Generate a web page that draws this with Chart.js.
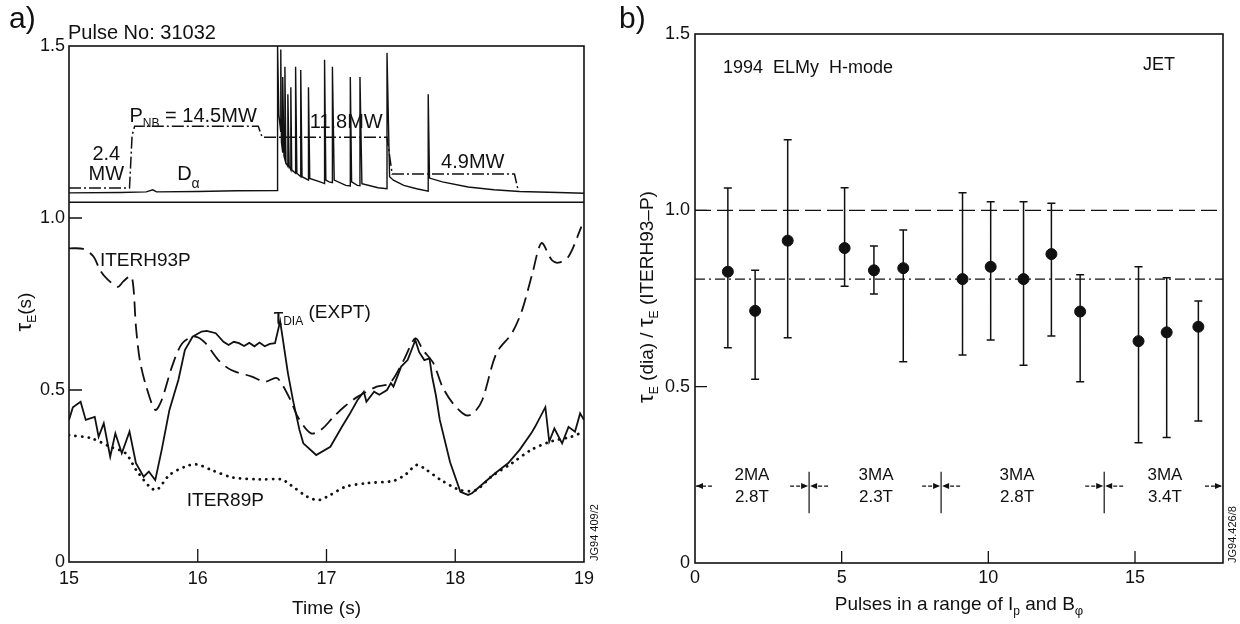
<!DOCTYPE html>
<html>
<head>
<meta charset="utf-8">
<script src="https://cdn.jsdelivr.net/npm/chart.js@4.4.1/dist/chart.umd.min.js"></script>
<style>
  html, body { margin: 0; padding: 0; background: #fff; }
  #wrapA { position: absolute; left: 0; top: 0; width: 600px; height: 624px; }
  #wrapB { position: absolute; left: 600px; top: 0; width: 640px; height: 624px; }
</style>
</head>
<body>
<div id="wrapA"><canvas id="chartA" width="600" height="624"></canvas></div>
<div id="wrapB"><canvas id="chartB" width="640" height="624"></canvas></div>
<script>
// ---- panel a) : [time (s), value] ----
const tauDia = [
  [15.00, 0.413], [15.03, 0.450], [15.09, 0.466], [15.13, 0.413], [15.20, 0.422], [15.23, 0.364],
  [15.27, 0.403], [15.32, 0.306], [15.36, 0.374], [15.41, 0.316], [15.47, 0.379], [15.52, 0.287],
  [15.58, 0.248], [15.62, 0.263], [15.67, 0.238], [15.72, 0.326], [15.78, 0.442], [15.85, 0.530],
  [15.90, 0.616], [15.96, 0.655], [16.03, 0.670], [16.07, 0.672], [16.14, 0.665], [16.20, 0.640],
  [16.24, 0.631], [16.28, 0.640], [16.32, 0.636], [16.36, 0.628], [16.40, 0.637], [16.44, 0.627],
  [16.48, 0.638], [16.52, 0.627], [16.56, 0.634], [16.60, 0.636], [16.64, 0.700], [16.66, 0.650],
  [16.70, 0.550], [16.74, 0.470], [16.79, 0.384], [16.82, 0.345], [16.92, 0.311], [17.03, 0.335],
  [17.12, 0.393], [17.18, 0.430], [17.24, 0.470], [17.29, 0.495], [17.31, 0.466], [17.37, 0.495],
  [17.41, 0.486], [17.47, 0.500], [17.50, 0.520], [17.52, 0.510], [17.58, 0.568], [17.63, 0.587],
  [17.69, 0.645], [17.72, 0.610], [17.76, 0.587], [17.80, 0.592], [17.82, 0.540], [17.85, 0.484],
  [17.88, 0.413], [17.96, 0.290], [18.04, 0.204], [18.10, 0.195], [18.13, 0.200], [18.22, 0.229],
  [18.31, 0.258], [18.41, 0.287], [18.50, 0.326], [18.59, 0.374], [18.62, 0.393], [18.70, 0.450],
  [18.73, 0.350], [18.77, 0.388], [18.83, 0.345], [18.88, 0.393], [18.93, 0.379], [18.97, 0.432],
  [19.00, 0.413]
];
const iterH93P = [
  [15.00, 0.912], [15.11, 0.910], [15.19, 0.888], [15.24, 0.849], [15.29, 0.825], [15.38, 0.800],
  [15.42, 0.815], [15.48, 0.831], [15.50, 0.800], [15.52, 0.684], [15.55, 0.587], [15.60, 0.510],
  [15.67, 0.442], [15.72, 0.471], [15.80, 0.568], [15.88, 0.636], [15.98, 0.655], [16.06, 0.636],
  [16.16, 0.587], [16.26, 0.558], [16.42, 0.539], [16.52, 0.524], [16.61, 0.535], [16.65, 0.520],
  [16.72, 0.471], [16.78, 0.420], [16.88, 0.374], [16.96, 0.385], [17.05, 0.420], [17.14, 0.452],
  [17.24, 0.480], [17.39, 0.510], [17.49, 0.519], [17.60, 0.587], [17.69, 0.650], [17.75, 0.616],
  [17.83, 0.578], [17.90, 0.510], [17.98, 0.462], [18.08, 0.427], [18.14, 0.432], [18.21, 0.471],
  [18.32, 0.607], [18.44, 0.665], [18.52, 0.733], [18.60, 0.840], [18.67, 0.927], [18.75, 0.878],
  [18.80, 0.870], [18.88, 0.888], [18.98, 0.975]
];
const iter89P = [
  [15.00, 0.369], [15.17, 0.360], [15.32, 0.335], [15.44, 0.316], [15.53, 0.263], [15.67, 0.209],
  [15.78, 0.253], [15.90, 0.277], [15.99, 0.284], [16.11, 0.267], [16.27, 0.246], [16.48, 0.240],
  [16.65, 0.240], [16.72, 0.224], [16.85, 0.190], [16.94, 0.180], [17.03, 0.195], [17.15, 0.219],
  [17.31, 0.229], [17.52, 0.236], [17.61, 0.253], [17.70, 0.282], [17.76, 0.272], [17.89, 0.238],
  [18.04, 0.209], [18.16, 0.209], [18.28, 0.248], [18.44, 0.287], [18.59, 0.326], [18.74, 0.350],
  [18.90, 0.364], [19.00, 0.379]
];
const dAlpha = [
  [15.00, 1.073], [15.40, 1.074], [15.60, 1.076], [15.65, 1.082], [15.68, 1.076], [16.00, 1.077],
  [16.30, 1.079], [16.62, 1.080], [16.62, 1.500], [16.63, 1.300], [16.645, 1.250], [16.645, 1.490],
  [16.65, 1.220], [16.66, 1.190], [16.66, 1.410], [16.67, 1.180], [16.677, 1.170], [16.677, 1.440],
  [16.685, 1.160], [16.70, 1.150], [16.70, 1.360], [16.71, 1.150], [16.723, 1.140], [16.723, 1.380],
  [16.73, 1.140], [16.76, 1.130], [16.76, 1.440], [16.77, 1.130], [16.80, 1.120], [16.80, 1.430],
  [16.81, 1.120], [16.86, 1.110], [16.86, 1.380], [16.87, 1.115], [16.95, 1.105], [16.985, 1.100],
  [16.985, 1.460], [16.995, 1.110], [17.02, 1.105], [17.046, 1.103], [17.046, 1.440], [17.06, 1.110],
  [17.15, 1.095], [17.185, 1.093], [17.185, 1.410], [17.195, 1.105], [17.24, 1.095], [17.26, 1.094],
  [17.26, 1.410], [17.275, 1.100], [17.40, 1.088], [17.47, 1.085], [17.47, 1.480], [17.49, 1.120],
  [17.52, 1.110], [17.60, 1.095], [17.70, 1.085], [17.79, 1.078], [17.79, 1.360], [17.80, 1.116],
  [17.90, 1.105], [18.10, 1.090], [18.30, 1.082], [18.50, 1.077], [18.80, 1.074], [19.00, 1.072]
];
const pNB = [
  [15.00, 1.087], [15.47, 1.087], [15.49, 1.240], [15.51, 1.267], [16.47, 1.267], [16.50, 1.235],
  [17.47, 1.235], [17.51, 1.128], [18.46, 1.128], [18.49, 1.078]
];
const separator = [[15, 1.046], [19, 1.046]];
const timeTicks = [15, 16, 17, 18, 19];
const tauTicks = [0, 0.5, 1.0, 1.5];
const tauTickLabels = ['0', '0.5', '1.0', '1.5'];

// ---- panel b) ----
const pulseX = [1.12, 2.05, 3.16, 5.10, 6.10, 7.10, 9.12, 10.08, 11.20, 12.15, 13.13, 15.12, 16.08, 17.16];
const ratio = [0.826, 0.715, 0.914, 0.893, 0.830, 0.836, 0.805, 0.840, 0.805, 0.876, 0.713, 0.629, 0.654, 0.670];
const ratioLow = [0.610, 0.521, 0.639, 0.785, 0.763, 0.571, 0.590, 0.632, 0.561, 0.644, 0.514, 0.341, 0.356, 0.403];
const ratioHigh = [1.063, 0.830, 1.200, 1.064, 0.899, 0.944, 1.050, 1.024, 1.024, 1.020, 0.817, 0.840, 0.809, 0.743];
const refUnity = 1.0;
const refMean = 0.805;
const pulseTicks = [0, 5, 10, 15];
const ratioTicks = [0, 0.5, 1.0, 1.5];
const ratioTickLabels = ['0', '0.5', '1.0', '1.5'];
const groupBounds = [3.89, 8.39, 13.95];
const groupCentres = [1.94, 6.17, 10.98, 16.02];
const groupCurrent = ['2MA', '3MA', '3MA', '3MA'];
const groupField = ['2.8T', '2.3T', '2.8T', '3.4T'];
const groupLevel = 0.218;

const FONT = "'Liberation Sans', Arial, Helvetica, sans-serif";
const INK = '#111';

const toXY = arr => arr.map(p => ({ x: p[0], y: p[1] }));

// text made of pieces: [text, px size, baseline shift]
function richText(ctx, parts, x, y, align, rot) {
  ctx.save();
  ctx.translate(x, y);
  if (rot) ctx.rotate(rot);
  let w = 0;
  parts.forEach(p => { ctx.font = p[1] + 'px ' + FONT; w += ctx.measureText(p[0]).width; });
  let cx = align === 'center' ? -w / 2 : (align === 'right' ? -w : 0);
  ctx.textAlign = 'left';
  ctx.textBaseline = 'alphabetic';
  ctx.fillStyle = INK;
  parts.forEach(p => {
    ctx.font = p[1] + 'px ' + FONT;
    ctx.fillText(p[0], cx, p[2] || 0);
    cx += ctx.measureText(p[0]).width;
  });
  ctx.restore();
}

function frameAndTicks(chart, xVals, yVals, len) {
  const { ctx, chartArea: a, scales: { x, y } } = chart;
  ctx.save();
  ctx.strokeStyle = INK;
  ctx.lineWidth = 1.3;
  ctx.beginPath();
  xVals.forEach(v => { const px = x.getPixelForValue(v); ctx.moveTo(px, a.bottom); ctx.lineTo(px, a.bottom - len); });
  yVals.forEach(v => { const py = y.getPixelForValue(v); ctx.moveTo(a.left, py); ctx.lineTo(a.left + len, py); });
  ctx.stroke();
  ctx.lineWidth = 1.6;
  ctx.strokeRect(a.left, a.top, a.right - a.left, a.bottom - a.top);
  ctx.restore();
}

function tickFont() { return { family: FONT, size: 18 }; }

// ---------------- chart a) ----------------
const chartA = new Chart(document.getElementById('chartA'), {
  type: 'line',
  data: {
    datasets: [
      { label: 'tauDia', data: toXY(tauDia), borderColor: INK, borderWidth: 1.8, pointRadius: 0, tension: 0 },
      { label: 'ITERH93P', data: toXY(iterH93P), borderColor: INK, borderWidth: 1.8, borderDash: [15, 7], pointRadius: 0, tension: 0.3 },
      { label: 'ITER89P', data: toXY(iter89P), borderColor: INK, borderWidth: 2.8, borderDash: [0.1, 6.5], borderCapStyle: 'round', pointRadius: 0, tension: 0.3 },
      { label: 'D alpha', data: toXY(dAlpha), borderColor: INK, borderWidth: 1.4, pointRadius: 0, tension: 0 },
      { label: 'P NB', data: toXY(pNB), borderColor: INK, borderWidth: 1.5, borderDash: [12, 3, 2, 3], pointRadius: 0, tension: 0 },
      { label: 'separator', data: toXY(separator), borderColor: INK, borderWidth: 1.5, pointRadius: 0 }
    ]
  },
  options: {
    animation: false,
    responsive: false,
    devicePixelRatio: 1,
    events: [],
    layout: { padding: { top: 46, right: 11, left: 0, bottom: 0 } },
    plugins: { legend: { display: false }, tooltip: { enabled: false } },
    scales: {
      x: {
        type: 'linear', min: 15, max: 19,
        afterBuildTicks: s => { s.ticks = timeTicks.map(v => ({ value: v })); },
        afterFit: s => { s.height = 62; },
        grid: { display: false, drawTicks: false },
        border: { display: false },
        ticks: { font: tickFont(), color: INK, padding: 6, maxRotation: 0, autoSkip: false, callback: v => String(v) },
        title: { display: true, text: 'Time (s)', color: INK, font: { family: FONT, size: 19 }, padding: { top: 0, bottom: 4 } }
      },
      y: {
        type: 'linear', min: 0, max: 1.5,
        afterBuildTicks: s => { s.ticks = tauTicks.map(v => ({ value: v })); },
        afterFit: s => { s.width = 69; },
        grid: { display: false, drawTicks: false },
        border: { display: false },
        ticks: { font: tickFont(), color: INK, padding: 4, callback: (v, i) => tauTickLabels[i] }
      }
    }
  },
  plugins: [{
    id: 'panelA',
    afterDraw: chart => {
      const { ctx, scales: { x, y } } = chart;
      frameAndTicks(chart, [16, 17, 18], [0.5, 1.0], 13);
      const X = t => x.getPixelForValue(t), Y = v => y.getPixelForValue(v);
      richText(ctx, [['a)', 30, 0]], 9, 28, 'left');
      richText(ctx, [['Pulse No: 31032', 20, 0]], 68, 39, 'left');
      richText(ctx, [['τ', 22, 0], ['E', 12, 5], ['(s)', 19, 0]], 31, 312, 'center', -Math.PI / 2);
      richText(ctx, [['ITERH93P', 19, 0]], X(15.24), Y(0.86), 'left');
      richText(ctx, [['τ', 24, 0], ['DIA', 12, 0], [' (EXPT)', 19, -7]], X(16.59), Y(0.690), 'left');
      richText(ctx, [['ITER89P', 19, 0]], X(15.915), Y(0.163), 'left');
      richText(ctx, [['P', 20, 0], ['NB', 12, 5], [' = 14.5MW', 20, 0]], X(15.47), Y(1.279), 'left');
      richText(ctx, [['2.4', 20, 0]], X(15.29), Y(1.169), 'center');
      richText(ctx, [['MW', 20, 0]], X(15.29), Y(1.110), 'center');
      richText(ctx, [['D', 20, 0], ['α', 14, 8]], X(15.84), Y(1.110), 'left');
      richText(ctx, [['11.8MW', 20, 0]], X(16.87), Y(1.262), 'left');
      richText(ctx, [['4.9MW', 20, 0]], X(17.89), Y(1.145), 'left');
      richText(ctx, [['JG94 409/2', 11, 0]], 598, 561, 'left', -Math.PI / 2);
    }
  }]
});

// ---------------- chart b) ----------------
const chartB = new Chart(document.getElementById('chartB'), {
  type: 'scatter',
  data: {
    datasets: [
      { type: 'scatter', label: 'pulses', data: pulseX.map((p, i) => ({ x: p, y: ratio[i] })),
        backgroundColor: INK, borderColor: INK, pointRadius: 5.5, pointHoverRadius: 5.5 },
      { type: 'line', label: 'unity', data: [{ x: 0, y: refUnity }, { x: 18, y: refUnity }],
        borderColor: INK, borderWidth: 1.2, borderDash: [16, 6], pointRadius: 0 },
      { type: 'line', label: 'mean', data: [{ x: 0, y: refMean }, { x: 18, y: refMean }],
        borderColor: INK, borderWidth: 1.2, borderDash: [10, 4, 2, 4], pointRadius: 0 }
    ]
  },
  options: {
    animation: false,
    responsive: false,
    devicePixelRatio: 1,
    events: [],
    layout: { padding: { top: 34, right: 17, left: 0, bottom: 0 } },
    plugins: { legend: { display: false }, tooltip: { enabled: false } },
    scales: {
      x: {
        type: 'linear', min: 0, max: 18,
        afterBuildTicks: s => { s.ticks = pulseTicks.map(v => ({ value: v })); },
        afterFit: s => { s.height = 61; },
        grid: { display: false, drawTicks: false },
        border: { display: false },
        ticks: { font: tickFont(), color: INK, padding: 4, maxRotation: 0, autoSkip: false, callback: v => String(v) }
      },
      y: {
        type: 'linear', min: 0, max: 1.5,
        afterBuildTicks: s => { s.ticks = ratioTicks.map(v => ({ value: v })); },
        afterFit: s => { s.width = 95; },
        grid: { display: false, drawTicks: false },
        border: { display: false },
        ticks: { font: tickFont(), color: INK, padding: 5, callback: (v, i) => ratioTickLabels[i] }
      }
    }
  },
  plugins: [{
    id: 'errorBars',
    beforeDatasetsDraw: chart => {
      const { ctx, scales: { x, y } } = chart;
      ctx.save();
      ctx.strokeStyle = INK;
      ctx.lineWidth = 1.5;
      ctx.beginPath();
      pulseX.forEach((p, i) => {
        const px = x.getPixelForValue(p);
        const lo = y.getPixelForValue(ratioLow[i]), hi = y.getPixelForValue(ratioHigh[i]);
        ctx.moveTo(px, lo); ctx.lineTo(px, hi);
        ctx.moveTo(px - 4, lo); ctx.lineTo(px + 4, lo);
        ctx.moveTo(px - 4, hi); ctx.lineTo(px + 4, hi);
      });
      ctx.stroke();
      ctx.restore();
    }
  }, {
    id: 'panelB',
    afterDraw: chart => {
      const { ctx, chartArea: a, scales: { x, y } } = chart;
      frameAndTicks(chart, [5, 10, 15], [0.5, 1.0], 12);
      richText(ctx, [['b)', 30, 0]], 19, 28, 'left');
      richText(ctx, [['1994  ELMy  H-mode', 18, 0]], 123, 73, 'left');
      richText(ctx, [['JET', 18, 0]], 543, 70, 'left');
      richText(ctx, [['τ', 22, 0], ['E', 12, 5], [' (dia) / ', 19, 0], ['τ', 22, 0], ['E', 12, 5], [' (ITERH93–P)', 19, 0]],
        53, 297, 'center', -Math.PI / 2);
      richText(ctx, [['Pulses in a range of I', 19, 0], ['p', 12, 5], [' and B', 19, 0], ['φ', 13, 5]],
        (a.left + a.right) / 2, 610, 'center');
      richText(ctx, [['JG94.426/8', 11, 0]], 636, 563, 'left', -Math.PI / 2);

      // group annotation: arrows, dividers, labels
      const gy = y.getPixelForValue(groupLevel);
      const arrow = (from, to) => {
        ctx.save();
        ctx.setLineDash([4, 2]);
        ctx.beginPath(); ctx.moveTo(from, gy); ctx.lineTo(to, gy); ctx.stroke();
        ctx.setLineDash([]);
        const d = to > from ? 1 : -1;
        ctx.beginPath();
        ctx.moveTo(to, gy); ctx.lineTo(to - d * 7, gy - 3); ctx.lineTo(to - d * 7, gy + 3); ctx.closePath();
        ctx.fill();
        ctx.restore();
      };
      ctx.save();
      ctx.strokeStyle = INK; ctx.fillStyle = INK; ctx.lineWidth = 1.2;
      arrow(a.left + 17, a.left + 1);
      arrow(a.right - 18, a.right - 1);
      groupBounds.forEach(b => {
        const bx = x.getPixelForValue(b);
        arrow(bx - 19, bx - 1);
        arrow(bx + 19, bx + 1);
        ctx.beginPath();
        ctx.moveTo(bx, y.getPixelForValue(groupLevel + 0.041));
        ctx.lineTo(bx, y.getPixelForValue(groupLevel - 0.077));
        ctx.stroke();
      });
      ctx.restore();
      groupCentres.forEach((c, i) => {
        const cx = x.getPixelForValue(c);
        richText(ctx, [[groupCurrent[i], 17, 0]], cx, y.getPixelForValue(0.235), 'center');
        richText(ctx, [[groupField[i], 17, 0]], cx, y.getPixelForValue(0.173), 'center');
      });
    }
  }]
});
</script>
</body>
</html>
